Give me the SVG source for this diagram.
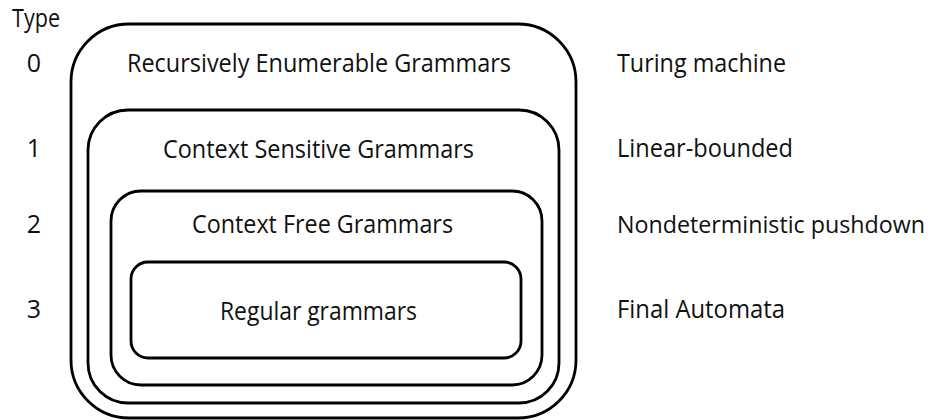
<svg xmlns="http://www.w3.org/2000/svg" width="934" height="420" viewBox="0 0 934 420">
  <style>
    .box { fill: none; stroke: #000; stroke-width: 2.8; }
    text { font-family: "Open Sans", "Liberation Sans", sans-serif; font-size: 25px; fill: #111; }
    .mid { text-anchor: middle; }
    .long { font-size: 23px; }
  </style>
  <rect width="934" height="420" fill="#fff"/>

  <!-- column of type numbers -->
  <g id="type-column">
    <text x="12" y="27" textLength="48" lengthAdjust="spacingAndGlyphs">Type</text>
    <text x="34" y="72" class="mid">0</text>
    <text x="34" y="157" class="mid">1</text>
    <text x="34" y="233" class="mid">2</text>
    <text x="34" y="318" class="mid">3</text>
  </g>

  <!-- nested grammar classes -->
  <g id="type0">
    <rect class="box" x="71" y="24" width="505" height="394" rx="58" ry="58"/>
    <text x="319" y="72" class="mid" textLength="384" lengthAdjust="spacingAndGlyphs">Recursively Enumerable Grammars</text>
  </g>
  <g id="type1">
    <rect class="box" x="88" y="110" width="471" height="293" rx="40" ry="40"/>
    <text x="318.5" y="158" class="mid" textLength="311" lengthAdjust="spacingAndGlyphs">Context Sensitive Grammars</text>
  </g>
  <g id="type2">
    <rect class="box" x="111" y="191" width="431" height="194" rx="30" ry="30"/>
    <text x="322.5" y="233" class="mid" textLength="261" lengthAdjust="spacingAndGlyphs">Context Free Grammars</text>
  </g>
  <g id="type3">
    <rect class="box" x="131" y="262" width="390" height="96" rx="17" ry="17"/>
    <text x="318.5" y="320" class="mid" textLength="197" lengthAdjust="spacingAndGlyphs">Regular grammars</text>
  </g>

  <!-- matching automata -->
  <g id="automata">
    <text x="617" y="72" textLength="169" lengthAdjust="spacingAndGlyphs">Turing machine</text>
    <text x="617" y="157" textLength="176" lengthAdjust="spacingAndGlyphs">Linear-bounded</text>
    <text x="617" y="233" class="long" textLength="308" lengthAdjust="spacingAndGlyphs">Nondeterministic pushdown</text>
    <text x="617" y="318" textLength="168" lengthAdjust="spacingAndGlyphs">Final Automata</text>
  </g>

  <g id="connectors"/>
</svg>
